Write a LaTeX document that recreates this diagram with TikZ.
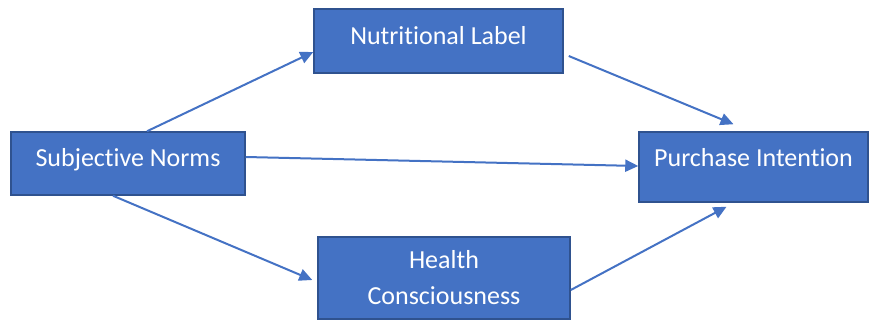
\documentclass[tikz,border=0pt]{standalone}
\usepackage{fontspec}
\setmainfont[Ligatures={NoCommon}]{Carlito}
\usepackage{tikz}
\usetikzlibrary{arrows.meta}
\definecolor{boxblue}{HTML}{4472C4}
\definecolor{boxedge}{HTML}{2F528F}
\tikzset{
	varbox/.style={draw=boxedge, line width=1.5pt, fill=boxblue, text=white, inner sep=0pt, align=center,
		font=\fontsize{26}{36}\selectfont},
	liftby/.style={text height=19pt, text depth=#1},
	link/.style={draw=boxblue, line width=2pt, -{Triangle[length=13pt,width=12pt]}}
}

\begin{document}
\begin{tikzpicture}[x=1pt, y=-1pt]
			%%%%% START %%%%%
			
			\useasboundingbox (0, 0) rectangle (869, 320);
			
			\node[varbox, liftby=12pt, minimum width=234pt, minimum height=63pt] (norms) at (128, 163.5) {Subjective Norms};
			\node[varbox, liftby=11pt, minimum width=249pt, minimum height=64pt] (label) at (438.5, 41) {Nutritional Label};
			\node[varbox, liftby=19pt, minimum width=229pt, minimum height=70pt] (intent) at (753.5, 167) {Purchase Intention};
			\node[varbox, minimum width=252pt, minimum height=82pt] (health) at (444, 278) {Health\\Consciousness};
			
			\draw[link] ([xshift=19pt]norms.north) -- ([yshift=-11pt]label.west);
			\draw[link] ([xshift=5pt, yshift=-15pt]label.east) -- ([xshift=-20pt, yshift=7pt]intent.north);
			\draw[link] ([yshift=6.5pt]norms.east) -- ([yshift=1pt]intent.west);
			\draw[link] ([xshift=-15pt]norms.south) -- ([xshift=-5pt, yshift=-2pt]health.west);
			\draw[link] ([yshift=-12pt]health.east) -- ([xshift=-27pt, yshift=-4pt]intent.south);
			
			%%%%% END %%%%%
\end{tikzpicture}
\end{document}
